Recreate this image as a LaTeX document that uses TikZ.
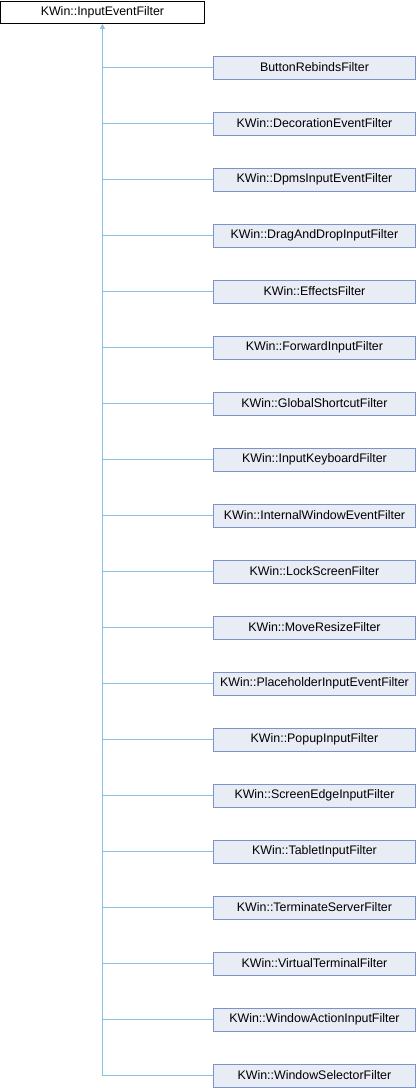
\documentclass[tikz,border=0pt]{standalone}
\usepackage{fontspec}
\setmainfont{Liberation Sans}
\usetikzlibrary{arrows.meta}
\definecolor{edgecol}{RGB}{138,192,228}
\definecolor{boxfill}{RGB}{232,236,245}
\definecolor{boxline}{RGB}{122,148,200}
\begin{document}
\begin{tikzpicture}[x=1bp,y=-1bp,
  basebox/.style={draw=black,fill=white,line width=0.9bp,minimum width=203bp,minimum height=22bp,inner sep=0pt,font=\fontsize{12.4bp}{14bp}\selectfont,anchor=north west},
  childbox/.style={draw=boxline,fill=boxfill,line width=0.9bp,minimum width=202bp,minimum height=23bp,inner sep=0pt,font=\fontsize{12.4bp}{14bp}\selectfont,anchor=west},
  edge/.style={draw=edgecol,line width=0.9bp}]
\useasboundingbox (0,0) rectangle (416,1088);
\node[basebox] (base) at (0.5,1) {KWin::InputEventFilter};
\foreach \name [count=\i] in {ButtonRebindsFilter,KWin::DecorationEventFilter,KWin::DpmsInputEventFilter,KWin::DragAndDropInputFilter,KWin::EffectsFilter,KWin::ForwardInputFilter,KWin::GlobalShortcutFilter,KWin::InputKeyboardFilter,KWin::InternalWindowEventFilter,KWin::LockScreenFilter,KWin::MoveResizeFilter,KWin::PlaceholderInputEventFilter,KWin::PopupInputFilter,KWin::ScreenEdgeInputFilter,KWin::TabletInputFilter,KWin::TerminateServerFilter,KWin::VirtualTerminalFilter,KWin::WindowActionInputFilter,KWin::WindowSelectorFilter}{
  \node[childbox] (c\i) at (213,{67.5+56*(\i-1)}) {\name};
}
\foreach \i in {1,...,18}{
  \draw[edge] (c\i.west) -- (c\i.west -| base.south);
}
\draw[edge,-{Triangle[width=5bp,length=5bp,fill=edgecol]}] (c19.west) -| (base.south);
\end{tikzpicture}
\end{document}
